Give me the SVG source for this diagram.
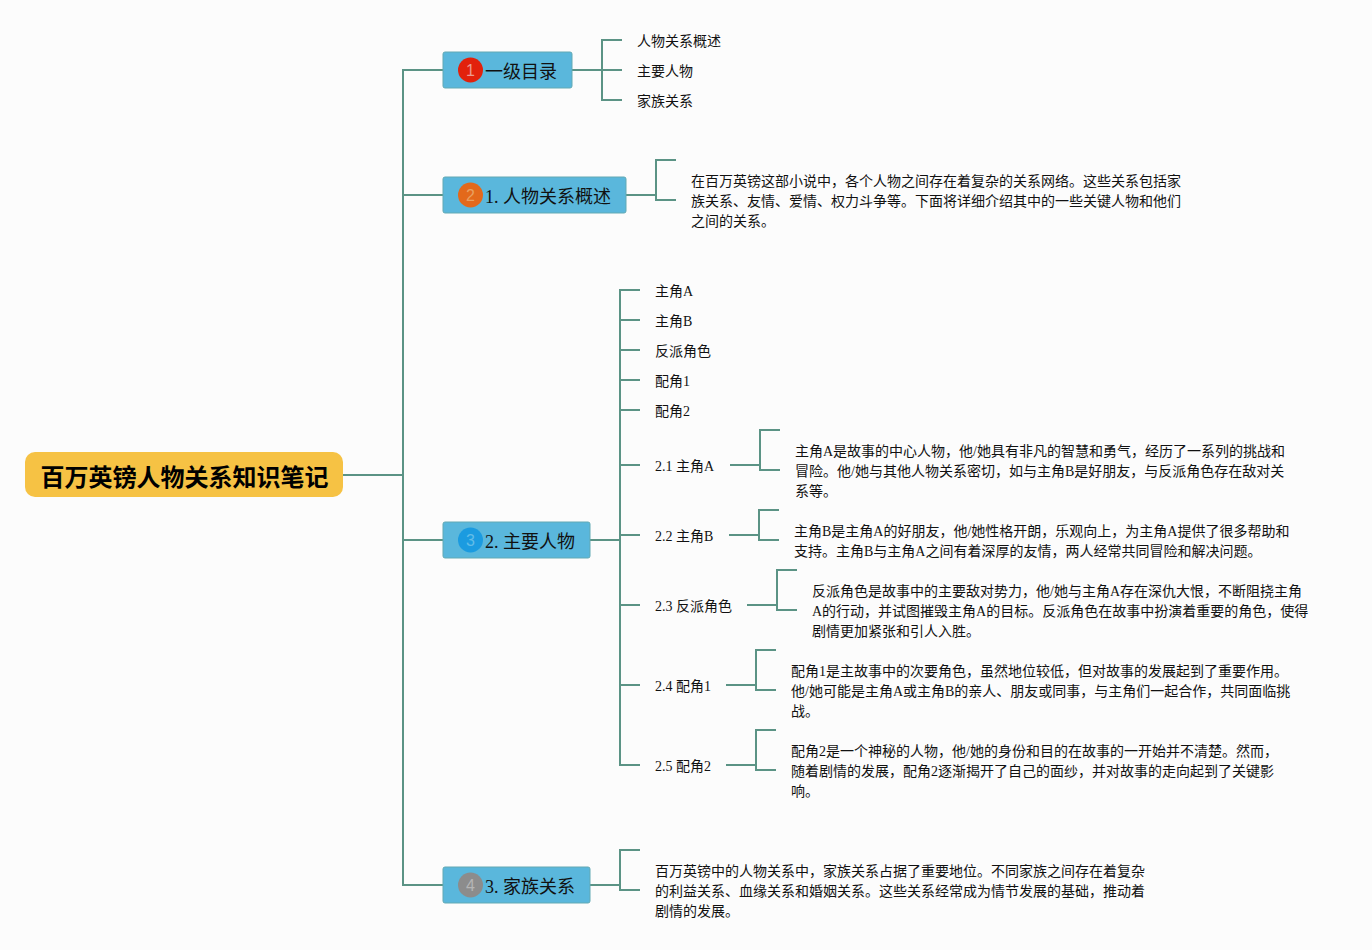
<svg xmlns="http://www.w3.org/2000/svg" width="1372" height="950" viewBox="0 0 1372 950">
<style>
text{font-family:"Liberation Serif","Noto Sans CJK SC",serif;fill:#111}
.t{font-size:14px}
.b{font-size:18px}
.r{font-size:24px;font-weight:700;fill:#000;font-family:"Liberation Sans","Noto Sans CJK SC",sans-serif}
.n{fill:#5ab7dc;stroke:#62a9b4;stroke-width:1}
.m{font-size:16px;text-anchor:middle;font-family:"Liberation Sans",sans-serif}
#connectors path{fill:none;stroke:#5b9385;stroke-width:2}
</style>
<rect width="1372" height="950" fill="#fcfcfc"/>
<g id="connectors">
<path d="M343 475H403M443 70H403V885H443M403 195H443M403 540H443"/>
<path d="M572 70H622M622 40H602V100H622"/>
<path d="M626 195H656M676 160H656V200H676"/>
<path d="M590 540H620M640 290H620V765H640M620 320H640M620 350H640M620 380H640M620 410H640M620 465H640M620 535H640M620 605H640M620 685H640"/>
<path d="M730 465H760M780 430H760V470H780"/>
<path d="M729 535H759M779 510H759V540H779"/>
<path d="M747 605H777M797 570H777V610H797"/>
<path d="M726 685H756M776 650H756V690H776"/>
<path d="M726 765H756M776 730H756V770H776"/>
<path d="M590 885H620M640 850H620V890H640"/>
</g>
<g id="root"><rect x="25" y="452" width="318" height="45" rx="10" fill="#f6c244"/><text class="r" x="40.500" y="486">百万英镑人物关系知识笔记</text></g>
<g id="n1"><rect class="n" x="443" y="52" width="129" height="36" rx="2"/><circle cx="470.500" cy="70" r="12.500" fill="#e2210c"/><text class="m" x="470.500" y="76" style="fill:#ee9a90">1</text><text class="b" x="485" y="78">一级目录</text></g>
<g id="n1a"><text class="t" x="637" y="46">人物关系概述</text></g>
<g id="n1b"><text class="t" x="637" y="76">主要人物</text></g>
<g id="n1c"><text class="t" x="637" y="106">家族关系</text></g>
<g id="n2"><rect class="n" x="443" y="177" width="183" height="36" rx="2"/><circle cx="470.500" cy="195" r="12.500" fill="#e3691b"/><text class="m" x="470.500" y="201" style="fill:#e9a060">2</text><text class="b" x="485" y="203">1. 人物关系概述</text></g>
<g id="n2a"><text class="t" x="691" y="186">在百万英镑这部小说中，各个人物之间存在着复杂的关系网络。这些关系包括家</text><text class="t" x="691" y="206">族关系、友情、爱情、权力斗争等。下面将详细介绍其中的一些关键人物和他们</text><text class="t" x="691" y="226">之间的关系。</text></g>
<g id="n3"><rect class="n" x="443" y="522" width="147" height="36" rx="2"/><circle cx="470.500" cy="540" r="12.500" fill="#1b9be0"/><text class="m" x="470.500" y="546" style="fill:#62bde8">3</text><text class="b" x="485" y="548">2. 主要人物</text></g>
<g id="n3a"><text class="t" x="655" y="296">主角A</text></g>
<g id="n3b"><text class="t" x="655" y="326">主角B</text></g>
<g id="n3c"><text class="t" x="655" y="356">反派角色</text></g>
<g id="n3d"><text class="t" x="655" y="386">配角1</text></g>
<g id="n3e"><text class="t" x="655" y="416">配角2</text></g>
<g id="n21"><text class="t" x="655" y="471">2.1 主角A</text></g>
<g id="n21a"><text class="t" x="795" y="456">主角A是故事的中心人物，他/她具有非凡的智慧和勇气，经历了一系列的挑战和</text><text class="t" x="795" y="476">冒险。他/她与其他人物关系密切，如与主角B是好朋友，与反派角色存在敌对关</text><text class="t" x="795" y="496">系等。</text></g>
<g id="n22"><text class="t" x="655" y="541">2.2 主角B</text></g>
<g id="n22a"><text class="t" x="794" y="536">主角B是主角A的好朋友，他/她性格开朗，乐观向上，为主角A提供了很多帮助和</text><text class="t" x="794" y="556">支持。主角B与主角A之间有着深厚的友情，两人经常共同冒险和解决问题。</text></g>
<g id="n23"><text class="t" x="655" y="611">2.3 反派角色</text></g>
<g id="n23a"><text class="t" x="812" y="596">反派角色是故事中的主要敌对势力，他/她与主角A存在深仇大恨，不断阻挠主角</text><text class="t" x="812" y="616">A的行动，并试图摧毁主角A的目标。反派角色在故事中扮演着重要的角色，使得</text><text class="t" x="812" y="636">剧情更加紧张和引人入胜。</text></g>
<g id="n24"><text class="t" x="655" y="691">2.4 配角1</text></g>
<g id="n24a"><text class="t" x="791" y="676">配角1是主故事中的次要角色，虽然地位较低，但对故事的发展起到了重要作用。</text><text class="t" x="791" y="696">他/她可能是主角A或主角B的亲人、朋友或同事，与主角们一起合作，共同面临挑</text><text class="t" x="791" y="716">战。</text></g>
<g id="n25"><text class="t" x="655" y="771">2.5 配角2</text></g>
<g id="n25a"><text class="t" x="791" y="756">配角2是一个神秘的人物，他/她的身份和目的在故事的一开始并不清楚。然而，</text><text class="t" x="791" y="776">随着剧情的发展，配角2逐渐揭开了自己的面纱，并对故事的走向起到了关键影</text><text class="t" x="791" y="796">响。</text></g>
<g id="n4"><rect class="n" x="443" y="867" width="147" height="36" rx="2"/><circle cx="470.500" cy="885" r="12.500" fill="#8c8c8c"/><text class="m" x="470.500" y="891" style="fill:#b5b5b5">4</text><text class="b" x="485" y="893">3. 家族关系</text></g>
<g id="n4a"><text class="t" x="655" y="876">百万英镑中的人物关系中，家族关系占据了重要地位。不同家族之间存在着复杂</text><text class="t" x="655" y="896">的利益关系、血缘关系和婚姻关系。这些关系经常成为情节发展的基础，推动着</text><text class="t" x="655" y="916">剧情的发展。</text></g>
</svg>
